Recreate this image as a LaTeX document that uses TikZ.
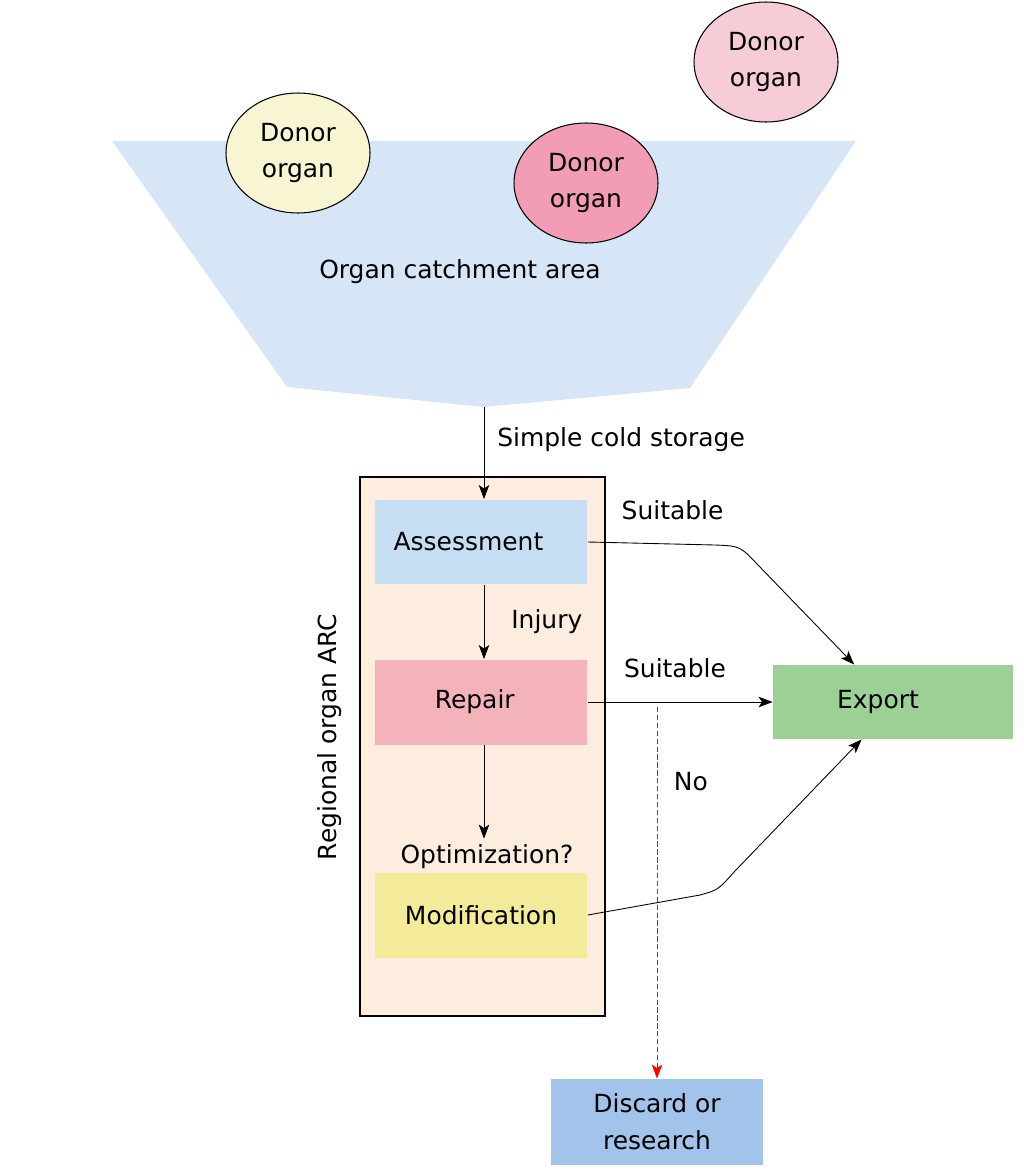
\documentclass[tikz,border=0pt]{standalone}
\usepackage{fontspec}
\setmainfont{DejaVu Sans}
\usetikzlibrary{shapes.geometric,arrows.meta}
\definecolor{funnelblue}{HTML}{D6E6F6}
\definecolor{arcbeige}{HTML}{FDEDDE}
\definecolor{donoryellow}{HTML}{F8F6D2}
\definecolor{donorpink}{HTML}{F29CB5}
\definecolor{donorrose}{HTML}{F6CCD6}
\definecolor{assessblue}{HTML}{C6DEF3}
\definecolor{repairpink}{HTML}{F4B3BA}
\definecolor{modyellow}{HTML}{F4EB9A}
\definecolor{exportgreen}{HTML}{9CD095}
\definecolor{discardblue}{HTML}{A2C4EA}
\tikzset{
  donor/.style={ellipse,draw,line width=0.6pt,minimum width=2.88cm,minimum height=2.4cm,align=center,inner sep=0pt},
  stepbox/.style={minimum width=4.26cm,minimum height=1.7cm,inner sep=0pt},
}
\begin{document}
\begin{tikzpicture}[x=0.02cm,y=-0.02cm,>={Stealth[length=8pt,width=6pt,inset=2pt]},line width=0.5pt]
\tikzstyle{every node}=[font=\fontsize{14.2}{21}\selectfont]
\useasboundingbox (0,0) rectangle (1024,1173);
% catchment funnel
\fill[funnelblue](112,141)--(856,141)--(690,388)--(484,407)--(287,387)--cycle;
\node (catch) at (460,272) {Organ catchment area};
\node[donor,fill=donoryellow] (d1) at (298,153) {Donor\\organ};
\node[donor,fill=donorpink] (d2) at (586,183) {Donor\\organ};
\node[donor,fill=donorrose] (d3) at (766,62) {Donor\\organ};
\coordinate (fb) at (484,407);
% regional ARC
\draw[fill=arcbeige,line width=0.9pt](360,477) rectangle (605,1016);
\node[rotate=90] (arc) at (330,737) {Regional organ ARC};
\node[stepbox,fill=assessblue] (as) at (481,542) {\hspace*{-0.5cm}Assessment};
\node[stepbox,fill=repairpink] (rp) at (481,702) {\hspace*{-0.25cm}Repair};
\node[stepbox,fill=modyellow] (md) at (481,915) {Modification};
\node (opt) at (487,857) {Optimization?};
\node[minimum width=4.8cm,minimum height=1.48cm,fill=exportgreen] (ex) at (893,702) {\hspace*{-0.6cm}Export};
\node[minimum width=4.24cm,minimum height=1.72cm,fill=discardblue,align=center] (dc) at (657,1122) {Discard or\\research};
% connectors
\draw[->](fb)--(fb |- as.north) node[pos=0.35,right=4pt]{Simple cold storage};
\draw[->](fb |- as.south)--(fb |- rp.north) node[midway,right=12pt]{Injury};
\draw[->](fb |- rp.south)--(fb |- opt.north);
\draw[->](as.east)--(715,545) node[midway,above=10pt,xshift=12pt]{Suitable}
 .. controls (740,546) .. (758,565)--(ex.136);
\draw[->](rp.east)--(ex.west) node[midway,above=10pt,xshift=-3pt]{Suitable};
\draw[->](md.east)--(700,895) .. controls (718,890) .. (735,871)--(ex.230);
\draw[->,red,dash pattern=on 3pt off 1.5pt]([yshift=-0.1cm]dc.north |- rp.east)--(dc.north) node[pos=0.2,right=6pt,black]{No};
\end{tikzpicture}
\end{document}
